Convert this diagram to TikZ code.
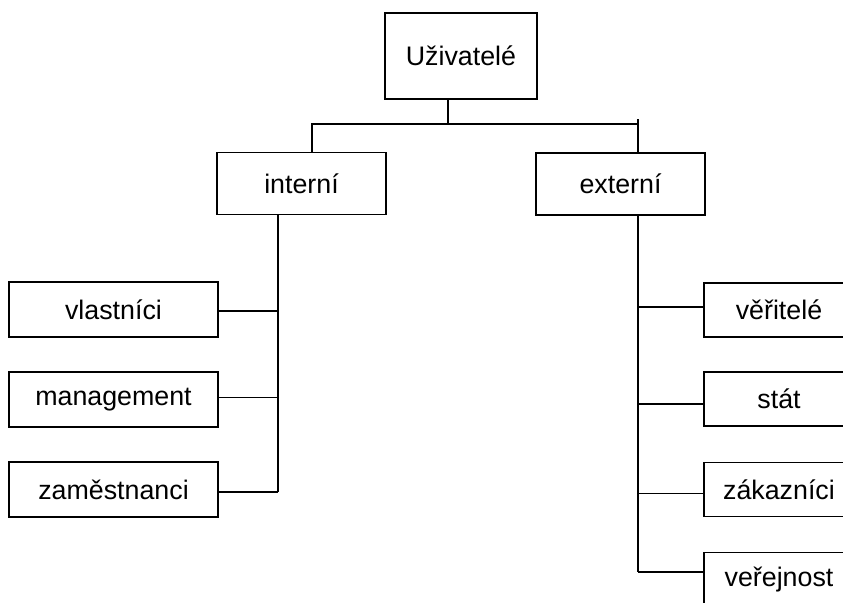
\documentclass[tikz,border=0pt]{standalone}
\usepackage{fontspec}
\setmainfont{Liberation Sans}
\usetikzlibrary{positioning}
\tikzset{
  box/.style={draw=black,line width=0.75pt,inner sep=0pt,align=center,
    font=\fontsize{13.4}{16}\selectfont},
  topbox/.style={box,minimum width=76pt,minimum height=43pt},
  midbox/.style={box,minimum width=84.5pt,minimum height=31pt},
  leafL/.style={box,minimum width=104.5pt,minimum height=27.5pt},
  leafR/.style={box,minimum width=75pt,minimum height=27pt},
  conn/.style={line width=0.75pt}
}

\begin{document}
\begin{tikzpicture}[x=0.5pt,y=-0.5pt]
% \draw[help lines] (0,0) grid (843,602);
\useasboundingbox (0,0) rectangle (843,602);
\clip (0,0) rectangle (843,602);
\node (user) [topbox] at (461,56) {Uživatelé};
\node (interni) [midbox] at (301.5,183.5) {interní};
\node (externi) [midbox] at (620.5,184) {externí};
%
\node (vlastnici) [leafL] at (113.5,309.5) {vlastníci};
\node (management) [leafL] at (113.5,399.5) {management};
\node (zamestnanci) [leafL] at (113.5,489.5) {zaměstnanci};
%
\node (veritele) [leafR] at (779,310) {věřitelé};
\node (stat) [leafR] at (779,399) {stát};
\node (zakaznici) [leafR] at (779,489.5) {zákazníci};
\node (verejnost) [leafR] at (779,579.5) {veřejnost};
%
\coordinate (busM) at (448,124);
\coordinate (busL) at (312,124);
\coordinate (busR) at (638,124);
\coordinate (trunkL) at (278,492);
\coordinate (trunkR) at (638,572);
%
\draw[conn] (user.south -| busM) -- (busM);
\draw[conn] (busL |- interni.north) -- (busL) -- (busR);
\draw[conn] (busR |- externi.north) -- ([yshift=2.5pt]busR);
%
\draw[conn] (trunkL |- interni.south) -- (trunkL);
\draw[conn] ([yshift=-0.75pt]vlastnici.east) -- ([yshift=-0.75pt]vlastnici.east -| trunkL);
\draw[conn] ([yshift=1pt]management.east) -- ([yshift=1pt]management.east -| trunkL);
\draw[conn] (trunkL) -- (trunkL -| zamestnanci.east);
%
\draw[conn] (trunkR |- externi.south) -- (trunkR);
\draw[conn] ([yshift=1.5pt]veritele.west) -- ([yshift=1.5pt]veritele.west -| trunkR);
\draw[conn] ([yshift=-2.5pt]stat.west) -- ([yshift=-2.5pt]stat.west -| trunkR);
\draw[conn] ([yshift=-2pt]zakaznici.west) -- ([yshift=-2pt]zakaznici.west -| trunkR);
\draw[conn] (trunkR) -- (trunkR -| verejnost.west);
\end{tikzpicture}
\end{document}
